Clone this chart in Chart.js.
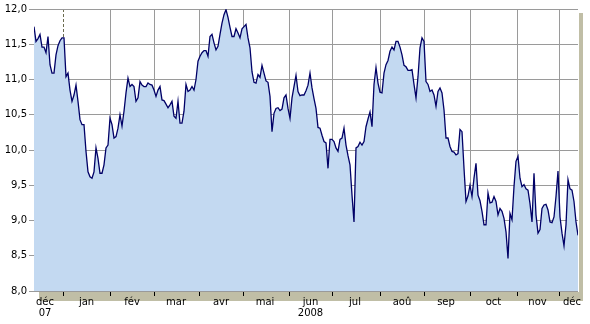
<!DOCTYPE html>
<html>
<head>
<meta charset="utf-8">
<script src="https://cdn.jsdelivr.net/npm/chart.js@4/dist/chart.umd.min.js"></script>
<style>
  body { margin: 0; background: #fff; }
</style>
</head>
<body>
<canvas id="rateChart" width="590" height="324"></canvas>
<script>
  // daily closes, one per trading day, dec 2007 -> dec 2008
  const closes = [
    11.75,11.54,11.58,11.64,11.46,11.46,11.38,11.61,11.21,11.09,
    11.09,11.35,11.48,11.55,11.59,11.59,11.04,11.09,10.85,10.69,
    10.78,10.92,10.69,10.43,10.36,10.36,9.98,9.69,9.62,9.60,
    9.69,10.03,9.88,9.67,9.67,9.79,10.03,10.07,10.45,10.36,
    10.17,10.19,10.31,10.50,10.34,10.55,10.81,11.02,10.90,10.93,
    10.90,10.69,10.74,10.97,10.92,10.90,10.90,10.95,10.93,10.92,
    10.85,10.76,10.85,10.90,10.71,10.70,10.65,10.60,10.64,10.69,
    10.48,10.45,10.69,10.38,10.38,10.55,10.93,10.83,10.85,10.90,
    10.85,11.00,11.26,11.33,11.38,11.41,11.41,11.33,11.61,11.64,
    11.52,11.42,11.47,11.64,11.80,11.92,11.99,11.88,11.74,11.61,
    11.61,11.72,11.66,11.59,11.72,11.75,11.78,11.59,11.45,11.11,
    10.96,10.95,11.07,11.03,11.20,11.09,10.98,10.96,10.76,10.26,
    10.52,10.59,10.60,10.56,10.58,10.74,10.78,10.59,10.45,10.74,
    10.90,11.06,10.83,10.77,10.78,10.78,10.84,10.92,11.09,10.88,
    10.73,10.59,10.32,10.31,10.21,10.12,10.10,9.74,10.15,10.15,
    10.12,10.03,9.98,10.15,10.17,10.31,10.07,9.92,9.79,9.36,
    8.98,10.03,10.05,10.11,10.07,10.12,10.33,10.44,10.54,10.33,
    10.93,11.17,10.95,10.82,10.81,11.09,11.21,11.27,11.40,11.46,
    11.42,11.54,11.54,11.46,11.35,11.20,11.18,11.13,11.13,11.14,
    10.93,10.74,11.04,11.45,11.59,11.54,10.97,10.93,10.83,10.85,
    10.78,10.62,10.83,10.88,10.81,10.57,10.17,10.17,10.05,9.98,
    9.97,9.93,9.95,10.29,10.26,9.74,9.27,9.35,9.50,9.34,
    9.60,9.81,9.36,9.28,9.13,8.94,8.94,9.39,9.25,9.26,
    9.34,9.27,9.08,9.17,9.13,9.03,8.84,8.46,9.10,9.01,
    9.48,9.84,9.91,9.60,9.48,9.51,9.45,9.43,9.24,8.98,
    9.67,9.08,8.82,8.87,9.17,9.22,9.23,9.15,8.98,8.97,
    9.05,9.34,9.70,9.05,8.82,8.64,8.94,9.58,9.45,9.43,
    9.27,8.98,8.79
  ];

  // month boundaries (in trading-day index) and where each month name sits
  const monthStarts = [14.5, 38, 60, 82.5, 104.5, 127.5, 149, 173, 195, 218, 241.5, 262.5];
  const yearStart = 14.5;
  const monthMids = [5.5, 26.25, 49, 71, 93.5, 115.5, 138.25, 160.5, 184, 206, 229.75, 251.75, 269];
  const monthNames = [['déc', '07'], 'jan', 'fév', 'mar', 'avr', 'mai', ['jun', '2008'], 'jul', 'aoû', 'sep', 'oct', 'nov', 'déc'];

  const yTicks = [8.0, 8.5, 9.0, 9.5, 10.0, 10.5, 11.0, 11.5, 12.0];

  const gridGray = '#9a9a9a';
  const font = { family: 'DejaVu Sans', size: 10, lineHeight: 1.1 };

  // tan "drop shadow" under the plot box
  const plotShadow = {
    id: 'plotShadow',
    beforeDraw(chart) {
      const { ctx, chartArea: a } = chart;
      ctx.save();
      ctx.fillStyle = '#c0bea6';
      ctx.fillRect(a.left + 5, a.top + 4, a.right - a.left, a.bottom - a.top + 6);
      ctx.fillStyle = '#ffffff';
      ctx.fillRect(a.left, a.top, a.right - a.left + 1, a.bottom - a.top + 1);
      ctx.restore();
    }
  };

  const isStart = v => monthStarts.includes(v);

  const ctx = document.getElementById('rateChart').getContext('2d');
  const rateChart = new Chart(ctx, {
    type: 'line',
    data: {
      datasets: [{
        data: closes.map((v, i) => ({ x: i, y: v })),
        borderColor: '#000066',
        borderWidth: 1.3,
        backgroundColor: '#c3d9f1',
        fill: 'start',
        tension: 0,
        pointRadius: 0,
        pointHoverRadius: 0
      }]
    },
    options: {
      responsive: false,
      animation: false,
      devicePixelRatio: 1,
      layout: { padding: { top: 9, right: 12, left: 0, bottom: 0 } },
      plugins: { legend: { display: false }, tooltip: { enabled: false } },
      scales: {
        x: {
          type: 'linear',
          min: 0,
          max: closes.length - 1,
          afterBuildTicks: axis => {
            axis.ticks = monthStarts.concat(monthMids)
              .sort((a, b) => a - b)
              .map(v => ({ value: v }));
          },
          afterFit: axis => { axis.height = 33; },
          border: {
            display: false,
            dash: c => (c.tick && c.tick.value === yearStart) ? [3, 2] : []
          },
          grid: {
            drawTicks: true,
            tickLength: 5,
            lineWidth: 1,
            color: c => {
              if (!c.tick || !isStart(c.tick.value)) return 'rgba(0,0,0,0)';
              return c.tick.value === yearStart ? '#6b6b4f' : gridGray;
            },
            tickColor: c => (c.tick && isStart(c.tick.value)) ? '#000000' : 'rgba(0,0,0,0)'
          },
          ticks: {
            autoSkip: false,
            maxRotation: 0,
            padding: 1,
            color: '#000',
            font: font,
            callback: value => {
              const i = monthMids.indexOf(value);
              return i >= 0 ? monthNames[i] : '';
            }
          }
        },
        y: {
          min: 8,
          max: 12,
          afterBuildTicks: axis => { axis.ticks = yTicks.map(v => ({ value: v })); },
          afterFit: axis => { axis.width = 34; },
          border: { display: false },
          grid: {
            color: gridGray,
            tickColor: gridGray,
            tickLength: 5,
            lineWidth: 1
          },
          ticks: {
            padding: 2,
            color: '#000',
            font: font,
            callback: value => value.toFixed(1).replace('.', ',')
          }
        }
      }
    },
    plugins: [plotShadow]
  });
</script>
</body>
</html>
